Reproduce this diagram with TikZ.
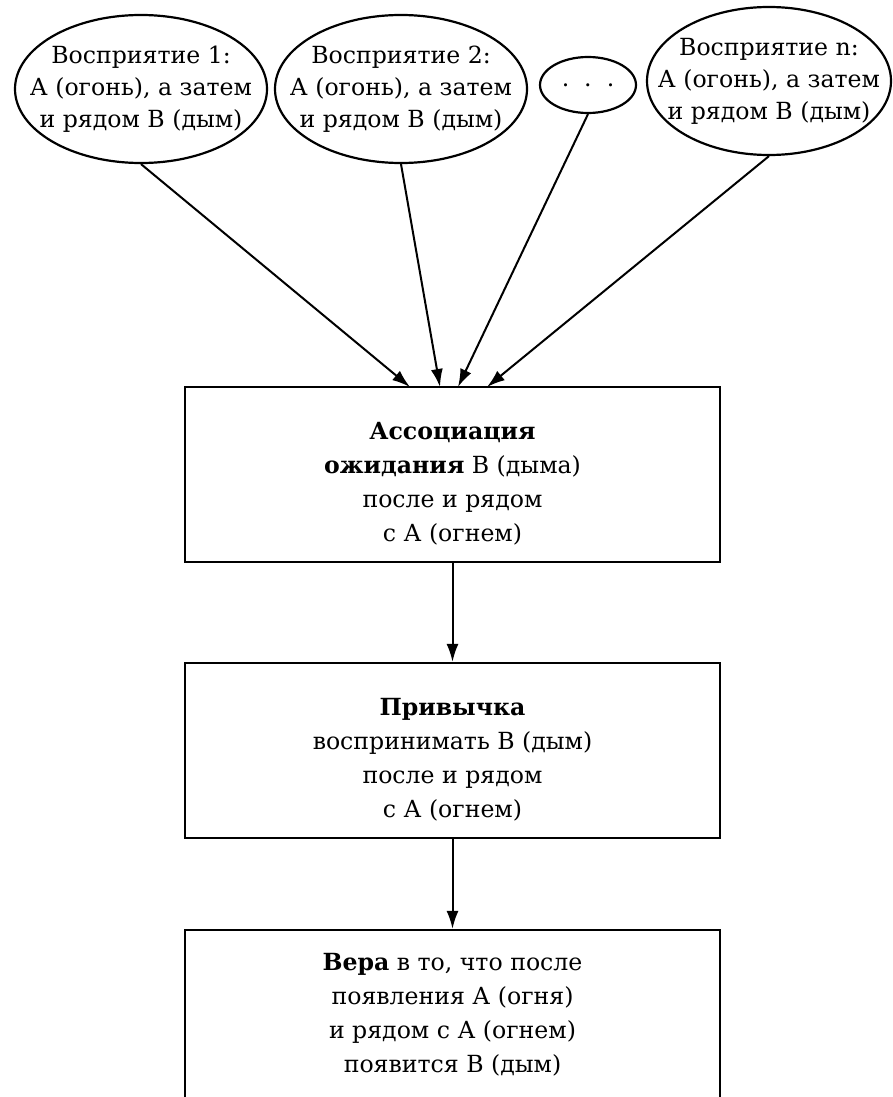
\documentclass[tikz,border=0pt]{standalone}
\usepackage{fontspec}
\setmainfont{DejaVu Serif}
\usetikzlibrary{shapes.geometric,arrows.meta}
\begin{document}
\begin{tikzpicture}[x=0.5pt,y=-0.5pt,
  ell/.style={draw, ellipse, line width=1.1pt, inner sep=0pt},
  txt/.style={align=center, font=\fontsize{11.8}{16}\selectfont, inner sep=0pt},
  btxt/.style={align=center, font=\fontsize{11.8}{17}\selectfont, inner sep=0pt},
  boxst/.style={draw, rectangle, line width=1.1pt, minimum width=267.5pt, inner sep=0pt},
  arr/.style={line width=1pt, -{Latex[length=9pt,width=6pt]}}]
\useasboundingbox (0,0) rectangle (893,1097);
% perceptions
\node[ell, minimum width=126pt, minimum height=74pt,
  label={[txt]center:{Восприятие 1:\\А (огонь), а затем\\и рядом В (дым)}}] (e1) at (141,89) {};
\node[ell, minimum width=126pt, minimum height=74pt,
  label={[txt]center:{Восприятие 2:\\А (огонь), а затем\\и рядом В (дым)}}] (e2) at (401,89) {};
\node[ell, minimum width=48pt, minimum height=28pt,
  label={[txt]center:{.\ \ .\ \ .}}] (dots) at (588,85) {};
\node[ell, minimum width=122pt, minimum height=74pt,
  label={[txt]center:{Восприятие n:\\А (огонь), а затем\\и рядом В (дым)}}] (en) at (769,81) {};
% boxes
\node[boxst, minimum height=87.5pt] (b1) at (452.5,474.5) {};
\node[btxt] (b1t) at (452.5,484) {\textbf{Ассоциация}\\\textbf{ожидания} В (дыма)\\после и рядом\\с А (огнем)};
\node[boxst, minimum height=87.5pt] (b2) at (452.5,750.5) {};
\node[btxt] (b2t) at (452.5,760) {\textbf{Привычка}\\воспринимать В (дым)\\после и рядом\\с А (огнем)};
\node[boxst, minimum height=100pt] (b3) at (452.5,1030) {};
\node[btxt] (b3t) at (452.5,1015) {\textbf{Вера} в то, что после\\появления А (огня)\\и рядом с А (огнем)\\появится В (дым)};
% arrow targets
\coordinate (t1) at (410,387);
\coordinate (t2) at (440,387);
\coordinate (t3) at (458,387);
\coordinate (t4) at (487,387);
\draw[arr] (e1.south) -- (t1);
\draw[arr] (e2.south) -- (t2);
\draw[arr] (dots.south) -- (t3);
\draw[arr] (en.south) -- (t4);
\draw[arr] (b1.south) -- (b2.north);
\draw[arr] (b2.south) -- (b3.north);
\end{tikzpicture}
\end{document}
